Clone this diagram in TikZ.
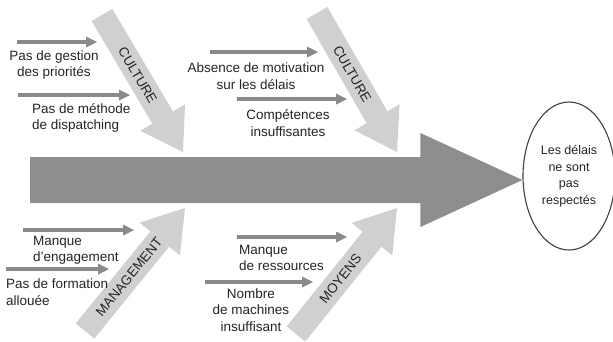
\documentclass[tikz,border=0pt]{standalone}
\usepackage{fontspec}
\setmainfont{Liberation Sans}
\usepackage{tikz}
\usetikzlibrary{arrows.meta,shapes.geometric,calc}

\definecolor{spinegray}{HTML}{8E8E8E}
\definecolor{branchgray}{HTML}{D0D0D0}
\definecolor{causegray}{HTML}{8A8A8A}
\definecolor{txtgray}{HTML}{242424}

\begin{document}
\begin{tikzpicture}[x=1pt, y=-1pt, every node/.style={inner sep=0pt, text=txtgray, font=\fontsize{13.5}{16.5}\selectfont},
	branch/.style={draw=branchgray, line width=24pt, -{Triangle[width=52pt, length=40pt, line width'=0pt]}},
	cause/.style={draw=causegray, line width=4pt, -{Triangle[width=11pt, length=11pt, line width'=0pt]}},
	branchlabel/.style={pos=0.44, sloped, font=\fontsize{13.5}{16}\selectfont}]
					\useasboundingbox (0,0) rectangle (613,341);
					\node (effect) at (569,176) [ellipse, draw=black!75, line width=1.1pt, minimum width=92pt, minimum height=148pt, align=center, font=\fontsize{12.5}{16.5}\selectfont] {Les délais\\ne sont\\pas\\respectés};
					\coordinate (tail) at (30,180);
					\coordinate (tip) at (effect.west |- tail);
					\fill[spinegray] ($(tail)+(0,-23)$) -- ($(tip)+(-102,-23)$) -- ($(tip)+(-102,-47)$) -- (tip) -- ($(tip)+(-102,47)$) -- ($(tip)+(-102,23)$) -- ($(tail)+(0,23)$) -- cycle;
					\coordinate (cul1s) at (102,15);
					\coordinate (cul1e) at (183,152);
					\coordinate (cul2s) at (317,13);
					\coordinate (cul2e) at (397,152);
					\coordinate (mans) at (85,331);
					\coordinate (mane) at (185,208);
					\coordinate (moys) at (296,334);
					\coordinate (moye) at (397,208);
					\draw[branch] (cul1s) -- (cul1e) node[branchlabel] (cul1) {CULTURE};
					\draw[branch] (cul2s) -- (cul2e) node[branchlabel] (cul2) {CULTURE};
					\draw[branch] (mans) -- (mane) node[branchlabel] (man) {MANAGEMENT};
					\draw[branch] (moys) -- (moye) node[branchlabel] (moy) {MOYENS};
					\coordinate (g1s) at (17,42);
					\coordinate (g1e) at (97,42);
					\coordinate (g2s) at (18,95);
					\coordinate (g2e) at (130,95);
					\coordinate (m1s) at (210,52);
					\coordinate (m1e) at (318,52);
					\coordinate (m2s) at (237,99);
					\coordinate (m2e) at (347,99);
					\coordinate (e1s) at (23,230);
					\coordinate (e1e) at (134,230);
					\coordinate (e2s) at (6,269);
					\coordinate (e2e) at (109,269);
					\coordinate (r1s) at (237,237);
					\coordinate (r1e) at (347,237);
					\coordinate (r2s) at (205,282);
					\coordinate (r2e) at (313,282);
					\draw[cause] (g1s) -- (g1e);
					\draw[cause] (g2s) -- (g2e);
					\draw[cause] (m1s) -- (m1e);
					\draw[cause] (m2s) -- (m2e);
					\draw[cause] (e1s) -- (e1e);
					\draw[cause] (e2s) -- (e2e);
					\draw[cause] (r1s) -- (r1e);
					\draw[cause] (r2s) -- (r2e);
					\node (gestion) at (54,65) [align=center] {Pas de gestion\\des priorités};
					\node (dispatch) at (32,118) [anchor=west, align=left] {Pas de méthode\\de dispatching};
					\node (motiv) at (256,76) [align=center] {Absence de motivation\\sur les délais};
					\node (compet) at (288,123) [align=center] {Compétences\\insuffisantes};
					\node (engag) at (33,250) [anchor=west, align=left] {Manque\\d'engagement};
					\node (formation) at (6,292) [anchor=west, align=left] {Pas de formation\\allouée};
					\node (ressources) at (239,258) [anchor=west, align=left] {Manque\\de ressources};
					\node (machines) at (251,310) [align=center] {Nombre\\de machines\\insuffisant};
				\end{tikzpicture}
\end{document}
